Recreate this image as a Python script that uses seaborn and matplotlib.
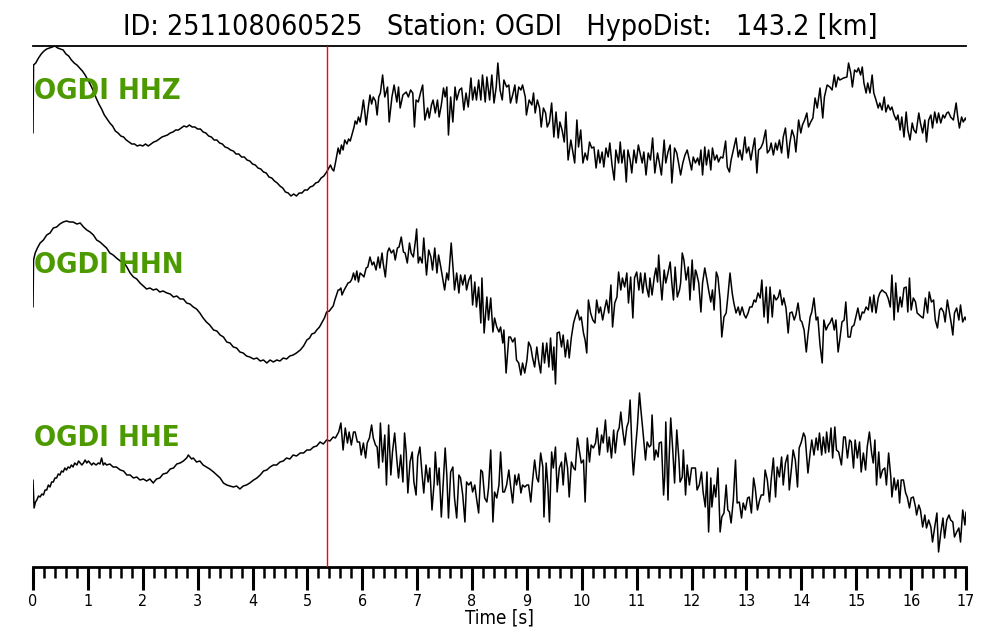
import matplotlib
matplotlib.use("Agg")
import matplotlib.pyplot as plt
from matplotlib.ticker import MultipleLocator
import seaborn as sns
import pandas as pd

# ---------------- data (time [s], amplitude [arb. counts]) ----------------
title_text = "ID: 251108060525   Station: OGDI   HypoDist:   143.2 [km]"
trace_names = ["OGDI HHZ", "OGDI HHN", "OGDI HHE"]
trace_offsets = [0, -180, -350]
p_pick_time = 5.36

hhz = [
    (0.0, -13), (0.01, 55), (0.05, 57), (0.1, 62), (0.15, 66), (0.2, 69), (0.25, 71), (0.3, 72),
    (0.35, 73), (0.4, 74), (0.45, 72), (0.5, 71), (0.55, 70), (0.6, 66), (0.65, 64), (0.7, 60),
    (0.75, 57), (0.8, 55), (0.85, 52), (0.9, 49), (0.95, 45), (1.0, 40), (1.05, 35), (1.1, 29),
    (1.15, 22), (1.2, 16), (1.25, 11), (1.3, 5), (1.35, 1), (1.4, -3), (1.45, -6), (1.5, -11),
    (1.55, -13), (1.6, -16), (1.65, -17), (1.7, -20), (1.75, -22), (1.8, -24), (1.85, -24),
    (1.9, -26), (1.95, -25), (2.0, -26), (2.05, -24), (2.1, -26), (2.15, -24), (2.2, -22),
    (2.25, -21), (2.3, -19), (2.35, -17), (2.4, -16), (2.45, -15), (2.5, -13), (2.55, -12),
    (2.6, -10), (2.65, -10), (2.7, -8), (2.75, -6), (2.8, -7), (2.85, -5), (2.9, -7), (2.95, -7),
    (3.0, -9), (3.05, -9), (3.1, -12), (3.15, -13), (3.2, -16), (3.25, -17), (3.3, -20),
    (3.35, -20), (3.4, -23), (3.45, -24), (3.5, -27), (3.55, -28), (3.6, -30), (3.65, -31),
    (3.7, -34), (3.75, -34), (3.8, -37), (3.85, -37), (3.9, -40), (3.95, -41), (4.0, -44),
    (4.05, -45), (4.1, -48), (4.15, -49), (4.2, -52), (4.25, -53), (4.3, -57), (4.35, -58),
    (4.4, -61), (4.45, -63), (4.5, -66), (4.55, -68), (4.6, -72), (4.65, -73), (4.7, -76),
    (4.75, -74), (4.8, -76), (4.85, -73), (4.9, -73), (4.95, -70), (5.0, -70), (5.05, -67),
    (5.1, -66), (5.15, -63), (5.2, -62), (5.25, -58), (5.3, -56), (5.35, -52),
    (5.40, -47), (5.42, -45), (5.45, -49), (5.48, -51), (5.51, -43), (5.56, -28), (5.59, -34),
    (5.62, -25), (5.65, -30), (5.68, -20), (5.72, -24), (5.75, -19), (5.78, -21), (5.81, -15),
    (5.85, -7), (5.87, -1), (5.90, -4), (5.93, 3), (5.96, -2), (5.99, 8), (6.02, 20), (6.05, 6),
    (6.07, -5), (6.11, 13), (6.14, 25), (6.17, 16), (6.20, 23), (6.24, 19), (6.27, 5), (6.30, 23),
    (6.33, 27), (6.37, 45), (6.41, 23), (6.46, 33), (6.49, -2), (6.54, 23), (6.58, 35), (6.63, 18),
    (6.66, 33), (6.69, 12), (6.74, 25), (6.80, 28), (6.84, 23), (6.88, 30), (6.92, 27), (6.95, -7),
    (6.98, 20), (7.02, 18), (7.06, 27), (7.10, 35), (7.14, 0), (7.19, 12), (7.22, 2), (7.26, 15),
    (7.29, 20), (7.33, 7), (7.37, 20), (7.40, 3), (7.44, 15), (7.48, 32), (7.51, 23), (7.54, 33),
    (7.57, -15), (7.61, 23), (7.65, -2), (7.69, 33), (7.72, 20), (7.77, 30), (7.81, 32), (7.85, 10),
    (7.89, 27), (7.93, 13), (7.98, 42), (8.01, 20), (8.05, 33), (8.08, 20), (8.12, 40), (8.16, 20),
    (8.19, 45), (8.24, 18), (8.27, 43), (8.32, 20), (8.36, 45), (8.40, 17), (8.44, 33), (8.47, 57),
    (8.51, 30), (8.55, 20), (8.58, 40), (8.63, 33), (8.67, 35), (8.70, 17), (8.74, 25), (8.78, 35),
    (8.81, 17), (8.85, 33), (8.89, 30), (8.92, 35), (8.97, 23), (8.99, 5), (9.04, 20), (9.09, 15),
    (9.12, 27), (9.15, 7), (9.19, 20), (9.23, 12), (9.26, -7), (9.30, 12), (9.34, 7), (9.37, -7),
    (9.41, -2), (9.45, 17), (9.49, -17), (9.53, 8), (9.57, -18), (9.60, -2), (9.64, -10), (9.68, -22),
    (9.71, 8), (9.75, -40), (9.80, -20), (9.83, -30), (9.87, -43), (9.91, 0), (9.94, -27), (9.98, -10),
    (10.02, -43), (10.06, -33), (10.10, -40), (10.14, -22), (10.18, -28), (10.22, -27), (10.26, -48),
    (10.30, -30), (10.33, -43), (10.37, -32), (10.40, -47), (10.44, -28), (10.48, -37), (10.51, -23),
    (10.55, -45), (10.59, -60), (10.62, -30), (10.67, -43), (10.70, -22), (10.73, -43), (10.77, -30),
    (10.81, -62), (10.84, -30), (10.88, -40), (10.91, -53), (10.95, -30), (10.99, -43), (11.03, -25),
    (11.10, -43), (11.13, -32), (11.17, -55), (11.21, -33), (11.25, -40), (11.29, -18), (11.33, -53),
    (11.38, -33), (11.41, -42), (11.45, -55), (11.50, -20), (11.53, -43), (11.57, -32), (11.61, -25),
    (11.64, -63), (11.69, -28), (11.73, -33), (11.76, -42), (11.80, -55), (11.84, -43), (11.88, -35),
    (11.92, -30), (11.96, -40), (12.00, -50), (12.03, -37), (12.07, -43), (12.11, -38), (12.14, -45),
    (12.17, -30), (12.20, -55), (12.24, -27), (12.27, -45), (12.31, -30), (12.35, -50), (12.38, -28),
    (12.42, -40), (12.46, -35), (12.49, -42), (12.53, -37), (12.57, -38), (12.62, -21), (12.65, -47),
    (12.69, -52), (12.72, -40), (12.76, -30), (12.81, -18), (12.85, -37), (12.88, -30), (12.92, -40),
    (12.97, -17), (13.00, -33), (13.04, -27), (13.08, -40), (13.11, -30), (13.15, -18), (13.19, -53),
    (13.22, -30), (13.26, -28), (13.30, -23), (13.35, -10), (13.38, -33), (13.42, -30), (13.45, -23),
    (13.49, -35), (13.53, -23), (13.56, -30), (13.60, -20), (13.64, -33), (13.67, -17), (13.71, -8),
    (13.76, -38), (13.79, -23), (13.83, -10), (13.87, -17), (13.90, -32), (13.95, 0), (13.99, -13),
    (14.02, -5), (14.06, 0), (14.10, 7), (14.13, -7), (14.17, -2), (14.21, 2), (14.25, 22), (14.29, 12),
    (14.34, 32), (14.39, 2), (14.42, 23), (14.47, 35), (14.52, 33), (14.56, 30), (14.60, 45),
    (14.63, 33), (14.67, 43), (14.70, 40), (14.77, 42), (14.83, 43), (14.86, 57), (14.90, 47),
    (14.93, 33), (14.97, 50), (15.01, 48), (15.04, 52), (15.08, 45), (15.11, 53), (15.14, 37),
    (15.18, 27), (15.21, 37), (15.25, 27), (15.29, 45), (15.32, 27), (15.36, 20), (15.40, 12),
    (15.43, 17), (15.47, 10), (15.51, 23), (15.54, 8), (15.58, 15), (15.62, 10), (15.65, 13),
    (15.69, 5), (15.73, 0), (15.76, 5), (15.80, -10), (15.83, 3), (15.87, -17), (15.91, 8),
    (15.94, -10), (15.98, -20), (16.02, -3), (16.05, -10), (16.09, -13), (16.14, 7), (16.17, -3),
    (16.21, -13), (16.25, 0), (16.28, -22), (16.32, 0), (16.36, 5), (16.39, -8), (16.43, 8),
    (16.47, -3), (16.50, 7), (16.54, -3), (16.58, 5), (16.61, 2), (16.65, 7), (16.68, 8), (16.72, 3),
    (16.77, 0), (16.82, 17), (16.85, 3), (16.88, -8), (16.92, 3), (16.95, -2), (16.99, 2), (17.0, 0),
]

hhn = [
    (0.0, -7), (0.01, 40), (0.04, 47), (0.08, 52), (0.13, 57), (0.19, 60), (0.25, 65), (0.31, 67),
    (0.37, 72), (0.43, 73), (0.49, 76), (0.55, 78), (0.61, 79), (0.67, 78), (0.73, 78), (0.80, 76),
    (0.86, 77), (0.92, 73), (0.98, 70), (1.04, 68), (1.10, 65), (1.16, 60), (1.22, 58), (1.28, 55),
    (1.34, 52), (1.40, 47), (1.46, 45), (1.52, 42), (1.59, 39), (1.65, 38), (1.71, 33), (1.77, 27),
    (1.83, 23), (1.89, 21), (1.95, 17), (2.01, 14), (2.07, 11), (2.13, 12), (2.19, 10), (2.25, 11),
    (2.31, 8), (2.37, 9), (2.44, 7), (2.50, 6), (2.56, 3), (2.62, 4), (2.68, 1), (2.74, 1),
    (2.80, -3), (2.86, -4), (2.92, -7), (2.98, -9), (3.04, -13), (3.10, -18), (3.16, -22),
    (3.22, -25), (3.29, -30), (3.35, -31), (3.41, -35), (3.47, -37), (3.53, -42), (3.59, -43),
    (3.65, -47), (3.71, -48), (3.77, -52), (3.83, -53), (3.89, -56), (3.95, -57), (4.02, -59),
    (4.08, -58), (4.14, -61), (4.20, -60), (4.26, -63), (4.32, -60), (4.38, -62), (4.44, -60),
    (4.50, -61), (4.56, -58), (4.62, -59), (4.68, -56), (4.74, -55), (4.80, -53), (4.87, -50),
    (4.93, -46), (4.99, -40), (5.04, -38), (5.08, -34), (5.13, -33), (5.17, -30), (5.22, -27),
    (5.26, -23), (5.31, -18), (5.35, -12), (5.40, -11), (5.44, -8), (5.47, -6), (5.50, 0),
    (5.53, 5), (5.56, 10),
    (5.58, 10), (5.61, 12), (5.63, 5), (5.67, 10), (5.70, 13), (5.74, 17), (5.78, 18), (5.81, 21),
    (5.84, 27), (5.87, 20), (5.90, 29), (5.93, 18), (5.96, 27), (6.00, 25), (6.03, 23), (6.07, 32),
    (6.10, 33), (6.14, 43), (6.18, 35), (6.21, 38), (6.25, 30), (6.29, 43), (6.32, 32), (6.36, 47),
    (6.38, 37), (6.42, 23), (6.46, 48), (6.49, 52), (6.53, 47), (6.57, 50), (6.60, 40), (6.64, 52),
    (6.67, 53), (6.71, 63), (6.75, 48), (6.78, 47), (6.82, 37), (6.86, 57), (6.89, 47), (6.93, 43),
    (6.97, 60), (6.99, 71), (7.02, 37), (7.05, 43), (7.09, 37), (7.12, 62), (7.17, 25), (7.21, 50),
    (7.25, 43), (7.28, 30), (7.32, 52), (7.36, 27), (7.39, 45), (7.43, 33), (7.46, 23), (7.50, 10),
    (7.54, 27), (7.57, 20), (7.62, 57), (7.66, 27), (7.68, 10), (7.72, 27), (7.76, 7), (7.79, 25),
    (7.83, 15), (7.87, 25), (7.90, 10), (7.94, 20), (7.98, 25), (8.01, -5), (8.05, 18), (8.08, -7),
    (8.12, 13), (8.16, -23), (8.18, 22), (8.22, -33), (8.27, 3), (8.30, -20), (8.34, 2), (8.38, -32),
    (8.41, -18), (8.45, -27), (8.49, -32), (8.52, -27), (8.56, -43), (8.58, -30), (8.62, -73),
    (8.67, -37), (8.70, -37), (8.74, -42), (8.78, -38), (8.81, -60), (8.85, -63), (8.89, -75),
    (8.92, -63), (8.96, -73), (9.00, -60), (9.03, -42), (9.07, -47), (9.10, -57), (9.14, -67),
    (9.18, -47), (9.21, -60), (9.25, -73), (9.29, -43), (9.32, -63), (9.36, -43), (9.40, -67),
    (9.43, -38), (9.47, -70), (9.49, -47), (9.52, -84), (9.55, -33), (9.59, -32), (9.63, -47),
    (9.66, -35), (9.70, -57), (9.74, -40), (9.77, -58), (9.81, -37), (9.85, -23), (9.88, -17),
    (9.92, -10), (9.96, -20), (9.99, -17), (10.03, -33), (10.06, -40), (10.09, -53), (10.12, 0),
    (10.16, -13), (10.20, -20), (10.24, -23), (10.27, 0), (10.31, -13), (10.34, -7), (10.38, -20),
    (10.42, -8), (10.45, 0), (10.49, -13), (10.53, 15), (10.56, -27), (10.60, -3), (10.64, 3),
    (10.67, 28), (10.71, 10), (10.74, 22), (10.78, 13), (10.82, 27), (10.85, -3), (10.89, 23),
    (10.93, -18), (10.96, 22), (11.00, 28), (11.04, 10), (11.07, 27), (11.11, 7), (11.15, 27),
    (11.18, 13), (11.22, 3),
    (11.24, 22), (11.28, 5), (11.32, 23), (11.35, 32), (11.38, 18), (11.40, 45), (11.43, 20),
    (11.46, 0), (11.50, 30), (11.53, 17), (11.57, 27), (11.61, 38), (11.64, 17), (11.67, 0),
    (11.70, 33), (11.74, 3), (11.78, 10), (11.80, 17), (11.83, 47), (11.86, 40), (11.90, 20),
    (11.94, 33), (11.97, 0), (12.01, 40), (12.04, 10), (12.07, 30), (12.09, 27), (12.13, 17),
    (12.17, -12), (12.20, 17), (12.24, 32), (12.28, 20), (12.31, 10), (12.35, -2), (12.38, 10),
    (12.41, -10), (12.45, 28), (12.48, 23), (12.52, 0), (12.55, -37), (12.59, -17), (12.63, -13),
    (12.66, 3), (12.70, 27), (12.74, 7), (12.77, -3), (12.81, -13), (12.85, -7), (12.88, -15),
    (12.92, -7), (12.96, -15), (12.99, -18), (13.03, -13), (13.06, -7), (13.10, -7), (13.14, 0),
    (13.17, -2), (13.21, 7), (13.25, 2), (13.28, 20), (13.32, -17), (13.36, 13), (13.39, -23),
    (13.43, 13), (13.47, -17), (13.50, 5), (13.54, 0), (13.58, 3), (13.61, 10), (13.65, -5),
    (13.68, 2), (13.72, -8), (13.76, -33), (13.79, -13), (13.83, -12), (13.87, -20), (13.90, -15),
    (13.94, -3), (13.98, -20), (14.01, -22), (14.05, -30), (14.09, -52), (14.12, -35), (14.16, -17),
    (14.19, -12), (14.23, 2), (14.27, -20), (14.30, -17), (14.34, -45), (14.38, -63), (14.41, -20),
    (14.45, -30), (14.49, -25), (14.52, -23), (14.56, -18), (14.60, -30), (14.63, -20), (14.67, -52),
    (14.70, -40), (14.74, -22), (14.78, -20), (14.81, -2), (14.85, -37), (14.89, -37), (14.92, -27),
    (14.96, -25), (15.00, -15), (15.03, -8), (15.07, -20), (15.11, -12), (15.14, -13), (15.18, -7),
    (15.22, -10), (15.25, 3), (15.29, -12), (15.32, 5), (15.36, -13), (15.40, 2), (15.43, 7),
    (15.47, 10), (15.51, 8), (15.54, 7), (15.58, 2), (15.62, -7), (15.65, 25), (15.69, -20),
    (15.72, 17), (15.76, -12), (15.80, 3), (15.83, -7), (15.87, 12), (15.91, 13), (15.94, -12),
    (15.97, 22), (16.00, -10), (16.04, 2), (16.08, -2), (16.11, -13), (16.15, -15), (16.19, -17),
    (16.22, -18), (16.26, 2), (16.30, -13), (16.33, 8), (16.37, -2), (16.41, 0), (16.44, -20),
    (16.48, -28), (16.52, -10), (16.55, -8), (16.59, -12), (16.62, -22), (16.66, 0), (16.70, -13),
    (16.73, -23), (16.76, -35), (16.79, -13), (16.83, -8), (16.87, -20), (16.90, -5), (16.94, -22),
    (16.98, -17), (17.0, -20),
]

hhe = [
    (0.0, -10), (0.02, -38), (0.045, -32), (0.07, -30), (0.10, -26), (0.13, -27), (0.16, -24),
    (0.19, -25), (0.22, -20), (0.25, -20), (0.28, -15), (0.31, -17), (0.34, -12), (0.37, -12),
    (0.40, -8), (0.43, -8), (0.46, -4), (0.49, -5), (0.52, -1), (0.55, -2), (0.58, 2), (0.61, 0),
    (0.64, 3), (0.67, 2), (0.70, 5), (0.73, 3), (0.76, 7), (0.80, 5), (0.83, 9), (0.86, 7),
    (0.89, 5), (0.92, 7), (0.95, 10), (0.98, 7), (1.01, 9), (1.04, 7), (1.07, 5), (1.10, 7),
    (1.15, 5), (1.19, 7), (1.22, 6), (1.25, 12), (1.28, 5), (1.31, 7), (1.34, 5), (1.40, 6),
    (1.46, 3), (1.52, 3), (1.59, 0), (1.65, -1), (1.71, -5), (1.77, -5), (1.83, -8), (1.89, -7),
    (1.95, -10), (2.01, -9), (2.07, -11), (2.13, -9), (2.19, -13), (2.25, -9), (2.31, -8),
    (2.37, -4), (2.44, -3), (2.50, 1), (2.56, 2), (2.62, 6), (2.68, 7), (2.74, 9), (2.80, 12),
    (2.83, 15), (2.86, 13), (2.89, 11), (2.92, 12), (2.98, 8), (3.04, 9), (3.10, 5), (3.16, 3),
    (3.22, 1), (3.29, -2), (3.35, -5), (3.41, -8), (3.47, -13), (3.53, -15), (3.59, -16),
    (3.65, -17), (3.71, -16), (3.77, -19), (3.83, -16), (3.89, -15), (3.95, -13), (4.02, -10),
    (4.08, -8), (4.14, -5), (4.20, -1), (4.26, 0), (4.32, 3), (4.38, 5), (4.44, 5), (4.50, 8),
    (4.56, 9), (4.62, 12), (4.68, 11), (4.74, 15), (4.80, 14), (4.87, 17), (4.93, 17), (4.99, 20),
    (5.05, 20), (5.11, 23), (5.17, 24), (5.23, 28), (5.29, 26), (5.35, 30), (5.41, 29), (5.47, 33),
    (5.51, 32), (5.56, 37),
    (5.57, 38), (5.61, 47), (5.65, 20), (5.69, 42), (5.73, 27), (5.76, 38), (5.80, 25), (5.84, 38),
    (5.87, 38), (5.91, 28), (5.95, 28), (5.98, 15), (6.02, 27), (6.06, 12), (6.09, 27), (6.13, 32),
    (6.17, 45), (6.20, 32), (6.24, 25), (6.27, 23), (6.30, 2), (6.33, 47), (6.37, 8), (6.41, 35),
    (6.44, -15), (6.48, 45), (6.52, -5), (6.55, 18), (6.59, 37), (6.63, 10), (6.66, -8), (6.70, 15),
    (6.74, -12), (6.77, 37), (6.80, 18), (6.83, -23), (6.87, 8), (6.91, 18), (6.94, -12), (6.98, -25),
    (7.01, 13), (7.05, 23), (7.09, -5), (7.12, -23), (7.16, 5), (7.20, -12), (7.23, 2), (7.27, -40),
    (7.31, -12), (7.33, 18), (7.37, -15), (7.40, 2), (7.44, -47), (7.48, -8), (7.51, 22), (7.54, -5),
    (7.57, -48), (7.61, -2), (7.65, 3), (7.68, -28), (7.72, -48), (7.76, -5), (7.79, -8), (7.83, -25),
    (7.87, -52), (7.90, -12), (7.94, -15), (7.98, -12), (8.01, -22), (8.05, -15), (8.08, -28),
    (8.12, -43), (8.16, 0), (8.19, -2), (8.23, -28), (8.27, -32), (8.30, -18), (8.34, 20), (8.38, -52),
    (8.41, -22), (8.45, -28), (8.49, -15), (8.52, 18), (8.56, -22), (8.59, -22), (8.63, -15),
    (8.67, 0), (8.70, -15), (8.74, -33), (8.78, -5), (8.81, -15), (8.85, -4), (8.89, -23), (8.92, -15),
    (8.96, -17), (9.00, -15), (9.03, -15), (9.07, -32), (9.10, -12), (9.14, 10), (9.18, -8),
    (9.21, -12), (9.25, 17), (9.29, 3), (9.31, -47), (9.35, 7), (9.38, -15), (9.41, -52), (9.45, 18),
    (9.48, 2), (9.52, 23), (9.55, -22), (9.59, 2), (9.63, 8), (9.66, -15), (9.70, 17), (9.74, 2),
    (9.77, -27), (9.81, 8), (9.85, 2), (9.88, 0), (9.92, 32), (9.96, 18), (9.99, 7), (10.03, 10),
    (10.06, -32), (10.10, 32), (10.14, 8), (10.17, 25), (10.21, 22), (10.25, 27), (10.28, 42),
    (10.32, 15), (10.36, 35), (10.39, 27), (10.43, 50), (10.47, 18), (10.50, 33), (10.54, 12),
    (10.58, 40), (10.61, 17), (10.65, 38), (10.68, 42), (10.71, 58), (10.74, 42), (10.78, 25),
    (10.82, 43), (10.85, 48), (10.88, 70), (10.92, 12), (10.94, -5), (10.98, 23), (11.01, 42),
    (11.05, 77), (11.08, 58), (11.12, 35), (11.16, 10), (11.19, 28), (11.23, 23),
    (11.26, 25), (11.28, 55), (11.32, 10), (11.35, 20), (11.39, 13), (11.41, 27), (11.45, 28),
    (11.49, -25), (11.51, -7), (11.53, 48), (11.57, -30), (11.59, 10), (11.62, 52), (11.66, 17),
    (11.69, -13), (11.73, 40), (11.77, 10), (11.79, -12), (11.83, -7), (11.85, 20), (11.89, -25),
    (11.92, 5), (11.96, -15), (12.00, 2), (12.03, 2), (12.07, 2), (12.10, -20), (12.14, -15),
    (12.18, -2), (12.21, -22), (12.25, -37), (12.28, -2), (12.31, -62), (12.35, -8), (12.37, -37),
    (12.41, -15), (12.44, -27), (12.48, 2), (12.52, -62), (12.55, -47), (12.59, -43), (12.63, -15),
    (12.66, -40), (12.69, -42), (12.72, -53), (12.76, -30), (12.80, 10), (12.83, -33), (12.87, -32),
    (12.91, -48), (12.94, -33), (12.98, -40), (13.02, -28), (13.05, -27), (13.09, -43), (13.13, -8),
    (13.16, -18), (13.20, -40), (13.24, -30), (13.27, -25), (13.31, -25), (13.34, 0), (13.38, -10),
    (13.42, -32), (13.45, -10), (13.49, 12), (13.53, -27), (13.56, 3), (13.60, -7), (13.64, 13),
    (13.67, -15), (13.71, 7), (13.75, 15), (13.78, -20), (13.82, 2), (13.85, 20), (13.89, 10),
    (13.93, -17), (13.96, 22), (14.00, 28), (14.04, 37), (14.07, 33), (14.12, -3), (14.16, 17),
    (14.19, 30), (14.23, 15), (14.27, 32), (14.30, 20), (14.33, 37), (14.37, 15), (14.40, 33),
    (14.44, 17), (14.46, 38), (14.50, 18), (14.54, 42), (14.57, 12), (14.61, 43), (14.64, 20),
    (14.68, 18), (14.73, 5), (14.77, 33), (14.80, 33), (14.84, 12), (14.88, 30), (14.91, 28),
    (14.95, 2), (14.98, 30), (15.02, 12), (15.06, 28), (15.09, -2), (15.13, 17), (15.17, 0),
    (15.20, 23), (15.24, 38), (15.28, 17), (15.31, 7), (15.34, 30), (15.37, -15), (15.41, 18),
    (15.44, -8), (15.48, 0), (15.52, 2), (15.55, -15), (15.59, 17), (15.63, -7), (15.65, -27),
    (15.69, -8), (15.72, -20), (15.76, -10), (15.79, -33), (15.82, -10), (15.86, -10), (15.90, -23),
    (15.93, -27), (15.97, -38), (16.00, -28), (16.04, -27), (16.08, -37), (16.10, -45), (16.14, -35),
    (16.17, -40), (16.21, -57), (16.25, -45), (16.28, -58), (16.32, -50), (16.36, -57), (16.39, -72),
    (16.43, -57), (16.47, -43), (16.50, -82), (16.54, -63), (16.58, -48), (16.61, -68), (16.65, -50),
    (16.69, -45), (16.72, -50), (16.76, -52), (16.79, -67), (16.83, -62), (16.87, -58), (16.90, -72),
    (16.94, -40), (16.98, -55), (17.0, -42),
]

traces = [hhz, hhn, hhe]

# ---------------- figure ----------------
sns.set_style("white")
plt.rcParams["font.family"] = ["DejaVu Sans"]
plt.rcParams["text.color"] = "black"
plt.rcParams["axes.labelcolor"] = "black"
plt.rcParams["xtick.color"] = "black"

fig = plt.figure(figsize=(10, 6.4), dpi=100)
ax = fig.add_axes([0.033, 1 - 567 / 640, 0.933, (567 - 46) / 640])

frames = []
for name, off, tr in zip(trace_names, trace_offsets, traces):
    df = pd.DataFrame(tr, columns=["time", "amp"])
    df["y"] = df["amp"] + off
    df["trace"] = name
    frames.append(df)

for df in frames:
    sns.lineplot(data=df, x="time", y="y", ax=ax, color="black", linewidth=1.1,
                 sort=False, estimator=None, legend=False)

ax.axvline(p_pick_time, color="red", linewidth=1.0, zorder=5)

ax.set_xlim(0, 17)
ax.set_ylim(-447, 74)
ax.set_yticks([])
ax.set_ylabel("")

for side in ["left", "right"]:
    ax.spines[side].set_visible(False)
ax.spines["top"].set_linewidth(1.3)
ax.spines["bottom"].set_linewidth(2.0)
ax.spines["top"].set_color("black")
ax.spines["bottom"].set_color("black")

ax.set_xticks(range(0, 18))
ax.xaxis.set_minor_locator(MultipleLocator(0.2))
ax.tick_params(axis="x", which="major", direction="out", length=16.5, width=2.2,
               labelsize=11.5, pad=3, color="black", labelcolor="black", bottom=True)
ax.tick_params(axis="x", which="minor", direction="out", length=8, width=1.8,
               color="black", bottom=True)
for lab in ax.get_xticklabels():
    lab.set_fontstretch("condensed")
ax.set_xlabel("Time [s]", fontsize=13.5, labelpad=-0.5, fontstretch="condensed", color="black")

fig.text(0.5, 1 - 27 / 640, title_text, ha="center", va="center", fontsize=20.5,
         fontstretch="condensed", color="black")

label_y = [91, 265, 438]
for name, yp in zip(trace_names, label_y):
    fig.text(34 / 1000, 1 - yp / 640, name, ha="left", va="center", fontsize=21,
             fontweight="bold", color="#4c9a00", fontstretch="condensed", zorder=10)

fig.savefig("out.png", dpi=100)
